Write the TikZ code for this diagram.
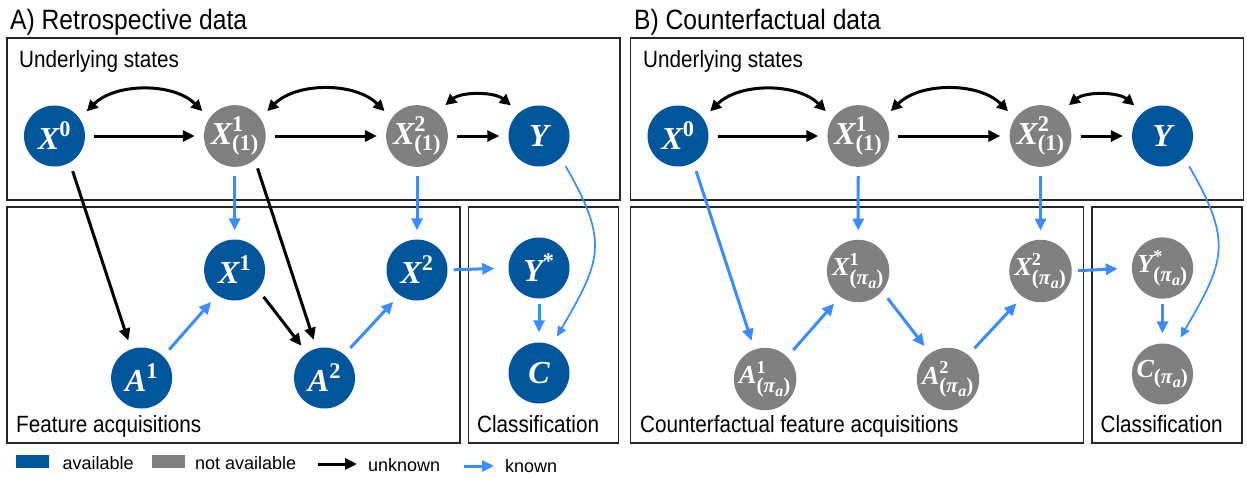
\documentclass[tikz,border=0pt]{standalone}
\usepackage{amsmath}
\usepackage{fontspec}
\setmainfont{Liberation Sans}
\newfontfamily\condfont{Liberation Sans}[FakeStretch=0.88]
\newfontfamily\mfont{Liberation Serif}
\usetikzlibrary{arrows.meta,shapes.geometric}
\definecolor{nblue}{HTML}{00559B}
\definecolor{ngray}{HTML}{808080}
\definecolor{ablue}{HTML}{3C8CFF}
\newcommand{\mv}[1]{\text{\mfont\bfseries\itshape #1}}
\newcommand{\mn}[1]{\text{\mfont\bfseries #1}}
\newcommand{\pia}{\text{\mfont\bfseries\fontsize{21}{21}\selectfont (\textit{π}\raisebox{-4pt}{\fontsize{16}{16}\selectfont\itshape a})}}
\tikzset{
  var/.style={circle, minimum size=61pt, inner sep=0pt, text=white, font=\fontsize{32}{32}\selectfont},
  av/.style={var, fill=nblue},
  na/.style={var, fill=ngray},
  smallvar/.style={font=\fontsize{26}{26}\selectfont},
  unk/.style={-{Triangle[length=12pt,width=11pt]}, line width=3pt, black, shorten >=9pt, shorten <=9pt},
  kn/.style={-{Triangle[length=12pt,width=11pt]}, line width=3pt, ablue, shorten >=9pt, shorten <=9pt},
  knthin/.style={-{Triangle[length=10pt,width=9pt]}, line width=1.7pt, ablue, shorten >=10pt, shorten <=10pt},
  bi/.style={{Triangle[length=11pt,width=11pt]}-{Triangle[length=11pt,width=11pt]}, line width=3pt, black, shorten >=10pt, shorten <=10pt},
  bis/.style={bi, shorten >=11pt, shorten <=11pt},
  box/.style={draw=black!85, line width=1.4pt},
  lbl/.style={font=\condfont\fontsize{23.5}{23.5}\selectfont, anchor=base west, inner sep=0pt},
  ttl/.style={font=\condfont\fontsize{28}{28}\selectfont, anchor=base west, inner sep=0pt},
  leg/.style={font=\fontsize{18}{18}\selectfont, anchor=base west, inner sep=0pt},
}
\begin{document}
\begin{tikzpicture}[x=1pt,y=1pt]
\useasboundingbox (0,0) rectangle (1247,-477);
% ---------- Panel A ----------
\node[ttl] (ta) at (10,-29) {A) Retrospective data};
\draw[box] (7,-38) rectangle (620,-200);
\draw[box] (7,-207) rectangle (460,-443);
\draw[box] (468.5,-207) rectangle (618.5,-443);
\node[lbl] (ua) at (19,-67) {Underlying states};
\node[lbl] (fa) at (16,-432) {Feature acquisitions};
\node[lbl] (ca) at (477,-432) {Classification};

\node[av] (aX0) at (54.5,-136) {$\mv{X}^{\mn{0}}$};
\node[na] (aX11) at (234.8,-136) {$\mv{X}^{\mn{1}}_{\mn{(1)}}$};
\node[na] (aX21) at (417,-136) {$\mv{X}^{\mn{2}}_{\mn{(1)}}$};
\node[av] (aY) at (539,-136) {$\mv{Y}$};
\node[av] (aX1) at (234.6,-270) {$\mv{X}^{\mn{1}}$};
\node[av] (aX2) at (417,-270) {$\mv{X}^{\mn{2}}$};
\node[av] (aYs) at (539,-268) {$\mv{Y}^{\mn{*}}$};
\node[av] (aA1) at (141.6,-378) {$\mv{A}^{\mn{1}}$};
\node[av] (aA2) at (324.5,-378) {$\mv{A}^{\mn{2}}$};
\node[av] (aC) at (539,-373) {$\mv{C}$};

\draw[unk] (aX0) -- (aX11);
\draw[unk] (aX11) -- (aX21);
\draw[unk] (aX21) -- (aY);
\draw[bi] (aX0.35) to[out=45,in=135] (aX11.145);
\draw[bi] (aX11.35) to[out=45,in=135] (aX21.145);
\draw[bis] (aX21.50) to[out=40,in=140] (aY.130);
\draw[unk] (aX0.-60) -- (aA1.110);
\draw[unk] (aX11.-50) -- (aA2.105);
\draw[kn] (aX11) -- (aX1);
\draw[kn] (aX21) -- (aX2);
\draw[kn] (aA1.45) -- (aX1.-125);
\draw[unk] (aX1.-40) -- (aA2.125);
\draw[kn] (aA2.50) -- (aX2.-125);
\draw[kn, shorten <=6pt, shorten >=14pt] (aX2.east) -- (aYs.west);
\draw[kn, shorten <=5pt, shorten >=10pt] (aYs) -- (aC);
\draw[knthin] (aY.-45) to[out=-60,in=60,looseness=1.33] (aC.65);

% ---------- Panel B ----------
\begin{scope}[xshift=623.5pt]
\node[ttl] (tb) at (10.5,-29) {B) Counterfactual data};
\draw[box] (7,-38) rectangle (620,-200);
\draw[box] (7,-207) rectangle (460,-443);
\draw[box] (468.5,-207) rectangle (618.5,-443);
\node[lbl] (ub) at (19.5,-67) {Underlying states};
\node[lbl] (fb) at (16.5,-432) {Counterfactual feature acquisitions};
\node[lbl] (cb) at (477,-432) {Classification};

\node[av] (bX0) at (54.5,-136) {$\mv{X}^{\mn{0}}$};
\node[na] (bX11) at (234.8,-136) {$\mv{X}^{\mn{1}}_{\mn{(1)}}$};
\node[na] (bX21) at (417,-136) {$\mv{X}^{\mn{2}}_{\mn{(1)}}$};
\node[av] (bY) at (539,-136) {$\mv{Y}$};
\node[na,smallvar] (bX1) at (234.6,-271) {$\mv{X}^{\mn{1}}_{\pia}$};
\node[na,smallvar] (bX2) at (417,-271) {$\mv{X}^{\mn{2}}_{\pia}$};
\node[na,smallvar] (bYs) at (539,-268) {$\mv{Y}^{\mn{*}}_{\pia}$};
\node[na,smallvar] (bA1) at (141.6,-379) {$\mv{A}^{\mn{1}}_{\pia}$};
\node[na,smallvar] (bA2) at (324.5,-379) {$\mv{A}^{\mn{2}}_{\pia}$};
\node[na,smallvar] (bC) at (539,-374) {$\mv{C}_{\pia}$};

\draw[unk] (bX0) -- (bX11);
\draw[unk] (bX11) -- (bX21);
\draw[unk] (bX21) -- (bY);
\draw[bi] (bX0.35) to[out=45,in=135] (bX11.145);
\draw[bi] (bX11.35) to[out=45,in=135] (bX21.145);
\draw[bis] (bX21.50) to[out=40,in=140] (bY.130);
\draw[kn] (bX0.-60) -- (bA1.110);
\draw[kn] (bX11) -- (bX1);
\draw[kn] (bX21) -- (bX2);
\draw[kn] (bA1.45) -- (bX1.-125);
\draw[kn] (bX1.-40) -- (bA2.125);
\draw[kn] (bA2.50) -- (bX2.-125);
\draw[kn, shorten <=6pt, shorten >=14pt] (bX2.east) -- (bYs.west);
\draw[kn, shorten <=5pt, shorten >=10pt] (bYs) -- (bC);
\draw[knthin] (bY.-45) to[out=-60,in=60,looseness=1.33] (bC.65);
\end{scope}

% ---------- Legend ----------
\fill[nblue] (16,-455) rectangle (49,-468);
\node[leg] (l1) at (62.5,-469) {available};
\fill[ngray] (152,-455) rectangle (185,-468);
\node[leg] (l2) at (195,-469) {not available};
\coordinate (lu1) at (318,-464);
\coordinate (lu2) at (357,-464);
\draw[unk, shorten >=0pt, shorten <=0pt] (lu1) -- (lu2);
\node[leg] (l3) at (368,-471) {unknown};
\coordinate (lk1) at (464,-466);
\coordinate (lk2) at (494,-466);
\draw[kn, shorten >=0pt, shorten <=0pt] (lk1) -- (lk2);
\node[leg] (l4) at (505,-472) {known};
\end{tikzpicture}
\end{document}
